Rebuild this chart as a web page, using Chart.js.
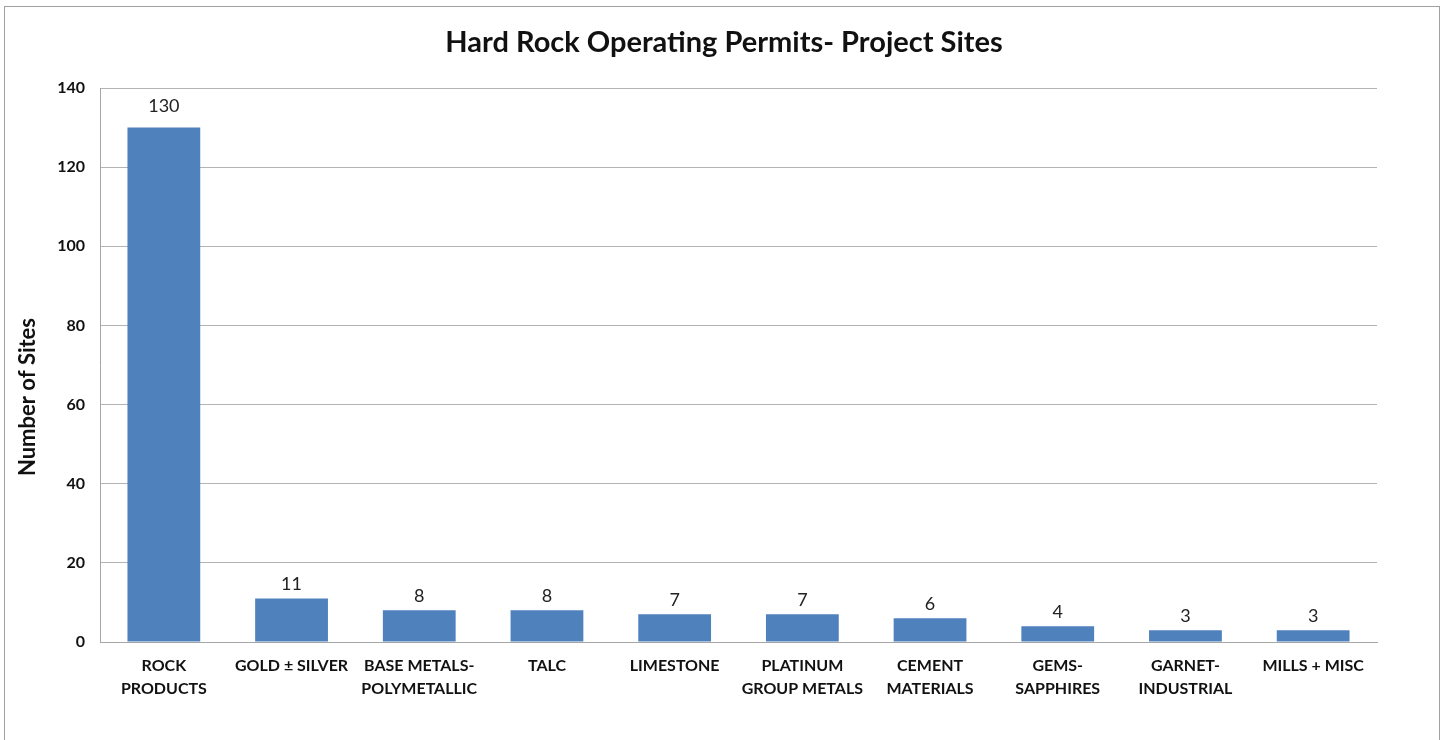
<!DOCTYPE html>
<html>
<head>
<meta charset="utf-8">
<script src="https://cdn.jsdelivr.net/npm/chart.js@4.4.1/dist/chart.umd.min.js"></script>
<style>
  html, body { margin: 0; padding: 0; background: #fff; }
  #wrap { position: relative; width: 1448px; height: 740px; overflow: hidden; }
  #frame {
    position: absolute; left: 4px; top: 6px; width: 1436px; height: 760px;
    border: 1px solid #a0a0a0; border-bottom: none; box-sizing: border-box;
  }
  #chart { position: absolute; left: 0; top: 0; }
</style>
</head>
<body>
<div id="wrap">
  <div id="frame"></div>
  <canvas id="chart" width="1448" height="740"></canvas>
</div>
<script>
// Categorias y numero de sitios
const categorias = [
  ["ROCK", "PRODUCTS"],
  ["GOLD ± SILVER"],
  ["BASE METALS-", "POLYMETALLIC"],
  ["TALC"],
  ["LIMESTONE"],
  ["PLATINUM", "GROUP METALS"],
  ["CEMENT", "MATERIALS"],
  ["GEMS-", "SAPPHIRES"],
  ["GARNET-", "INDUSTRIAL"],
  ["MILLS + MISC"]
];
const sitios = [130, 11, 8, 8, 7, 7, 6, 4, 3, 3];
const ticksY = [0, 20, 40, 60, 80, 100, 120, 140];
const titulo = "Hard Rock Operating Permits- Project Sites";
const tituloY = "Number of Sites";

const fuente = "Lato, 'Open Sans', sans-serif";

// Etiqueta con el valor encima de cada barra
const etiquetasValor = {
  id: "etiquetasValor",
  afterDatasetsDraw(chart) {
    const ctx = chart.ctx;
    const meta = chart.getDatasetMeta(0);
    ctx.save();
    ctx.font = "18px " + fuente;
    ctx.fillStyle = "#222";
    ctx.textAlign = "center";
    ctx.textBaseline = "bottom";
    meta.data.forEach((bar, i) => {
      const extra = sitios[i] > 100 ? 12 : 5;
      ctx.fillText(String(sitios[i]), bar.x, bar.y - extra);
    });
    ctx.restore();
  }
};

// Titulo centrado en la pagina y titulo del eje vertical
const titulos = {
  id: "titulos",
  afterDraw(chart) {
    const ctx = chart.ctx;
    ctx.save();
    ctx.fillStyle = "#111";
    ctx.textAlign = "center";
    ctx.textBaseline = "middle";
    ctx.font = "bold 29px " + fuente;
    ctx.fillText(titulo, chart.width / 2, 43);
    ctx.translate(28, 397);
    ctx.rotate(-Math.PI / 2);
    ctx.font = "bold 22px " + fuente;
    ctx.fillText(tituloY, 0, 0);
    ctx.restore();
  }
};

const ctx = document.getElementById("chart").getContext("2d");
new Chart(ctx, {
  type: "bar",
  data: {
    labels: categorias,
    datasets: [{
      label: tituloY,
      data: sitios,
      backgroundColor: "#4f81bd",
      borderWidth: 0,
      categoryPercentage: 1,
      barPercentage: 0.57
    }]
  },
  options: {
    responsive: false,
    animation: false,
    layout: { padding: { left: 0, right: 71, top: 88, bottom: 0 } },
    plugins: {
      legend: { display: false },
      tooltip: { enabled: false },
      title: { display: false }
    },
    scales: {
      x: {
        grid: { display: false, drawTicks: false },
        border: { color: "#a6a6a6", width: 1 },
        ticks: {
          color: "#111",
          font: { family: fuente, size: 16, weight: "bold", lineHeight: 1.45 },
          padding: 12,
          maxRotation: 0,
          autoSkip: false
        },
        afterFit(scale) { scale.height = 98; }
      },
      y: {
        min: 0,
        max: 140,
        afterBuildTicks(scale) { scale.ticks = ticksY.map(v => ({ value: v })); },
        grid: { color: "#b3b3b3", lineWidth: 1, drawTicks: false },
        border: { color: "#a6a6a6", width: 1 },
        ticks: {
          color: "#111",
          font: { family: fuente, size: 16, weight: "bold" },
          padding: 15
        },
        afterFit(scale) { scale.width = 100; }
      }
    }
  },
  plugins: [etiquetasValor, titulos]
});
</script>
</body>
</html>
